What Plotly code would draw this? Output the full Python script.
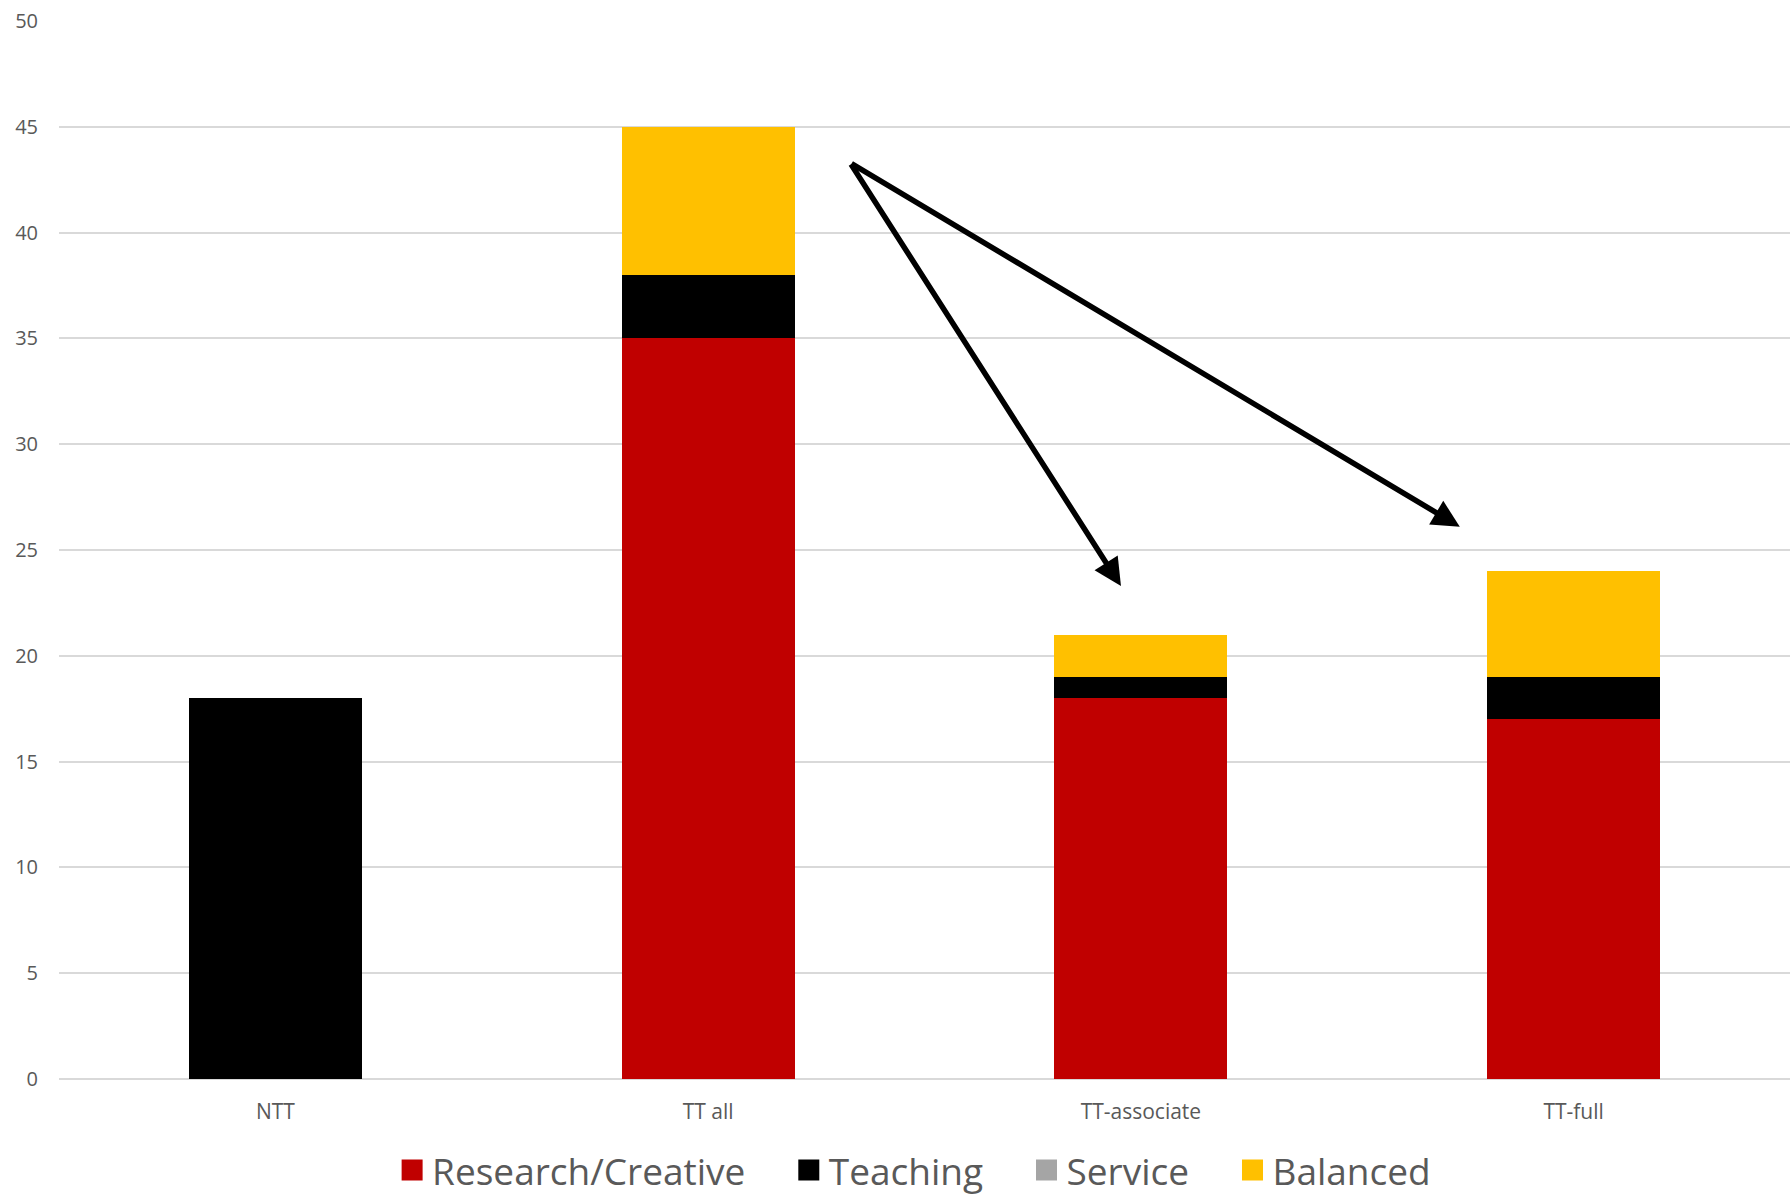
import plotly.graph_objects as go

categories = ["NTT", "TT all", "TT-associate", "TT-full"]
research = [0, 35, 18, 17]
teaching = [18, 3, 1, 2]
service = [0, 0, 0, 0]
balanced = [0, 7, 2, 5]
y_ticks = [0, 5, 10, 15, 20, 25, 30, 35, 40, 45, 50]

series = [
    ("Research/Creative", research, "#C00000"),
    ("Teaching", teaching, "#000000"),
    ("Service", service, "#A5A5A5"),
    ("Balanced", balanced, "#FFC000"),
]

PAD = "\u00a0" * 4

fig = go.Figure()
for i, (name, vals, color) in enumerate(series):
    fig.add_trace(go.Bar(
        x=categories, y=vals, name=name,
        marker=dict(color=color, line=dict(width=0)),
        showlegend=False,
    ))
    label = name + (PAD if i < len(series) - 1 else "")
    fig.add_trace(go.Scatter(
        x=[None], y=[None], mode="markers", name=label,
        marker=dict(symbol="square", size=16, color=color,
                    line=dict(color=color, width=5)),
        showlegend=True, hoverinfo="skip",
    ))

# arrows: from TT all toward TT-associate and TT-full
arrow_start = (1.328, 43.3)
arrow_tips = [(1.954, 23.3), (2.737, 26.1)]
for tx, ty in arrow_tips:
    fig.add_annotation(
        x=tx, y=ty, ax=arrow_start[0], ay=arrow_start[1],
        xref="x", yref="y", axref="x", ayref="y",
        showarrow=True, arrowhead=2, arrowsize=1.0, arrowwidth=5.5,
        arrowcolor="#000000", standoff=0, text="",
    )

fig.update_layout(
    barmode="stack",
    bargap=0.6,
    width=1790, height=1197,
    margin=dict(l=59, r=0, t=21, b=118, autoexpand=False),
    paper_bgcolor="white", plot_bgcolor="white",
    font=dict(family="Open Sans", color="#595959"),
    legend=dict(
        orientation="h", x=0.494, xanchor="center", y=-0.0865, yanchor="middle",
        traceorder="normal",
        font=dict(size=37, color="#595959"),
        itemclick=False, itemdoubleclick=False,
    ),
)
fig.update_xaxes(
    tickfont=dict(size=21, color="#595959"),
    showgrid=False, showline=False, ticks="",
    ticklabelstandoff=18, automargin=False,
)
fig.update_yaxes(
    range=[0, 50], tickvals=y_ticks,
    tickfont=dict(size=20, color="#595959"),
    showgrid=True, gridcolor="#D9D9D9", gridwidth=2,
    zeroline=True, zerolinecolor="#D9D9D9", zerolinewidth=2,
    showline=False, ticks="",
    ticklabelstandoff=20, automargin=False,
)

fig.write_html("out.html")
